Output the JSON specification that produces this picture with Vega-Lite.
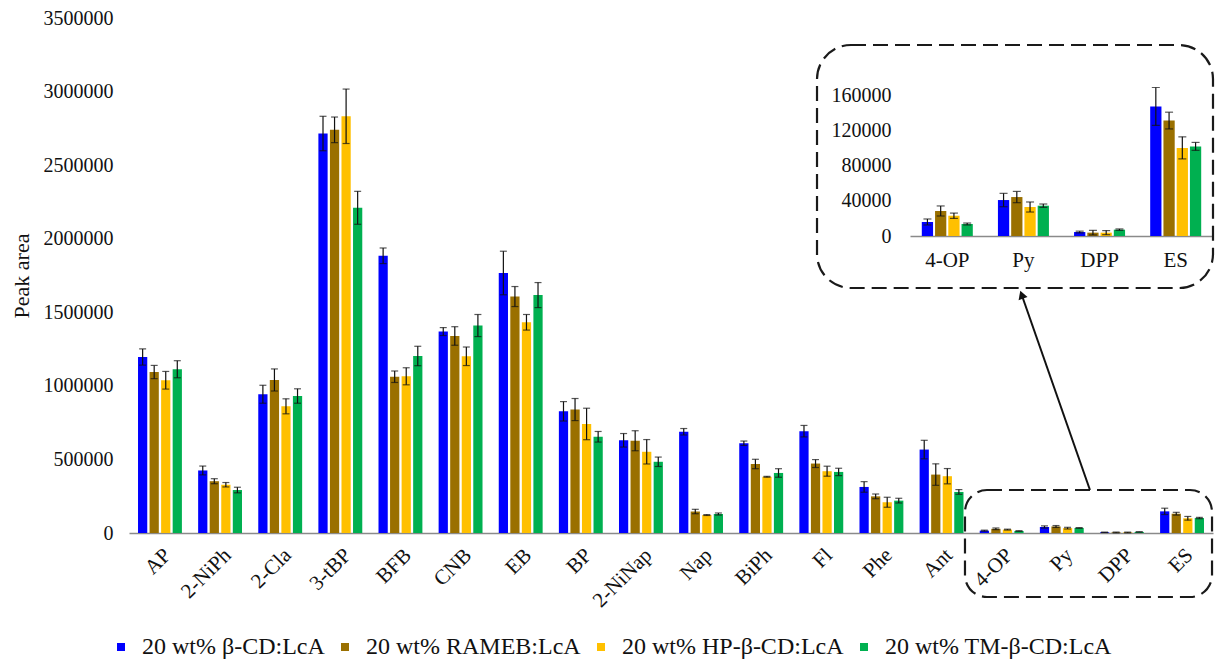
{
  "$schema": "https://vega.github.io/schema/vega-lite/v6.json",
  "autosize": {"type": "none"},
  "width": 1084,
  "height": 515,
  "padding": {"left": 129, "top": 18, "right": 3, "bottom": 126},
  "background": "white",
  "config": {
    "view": {"stroke": null},
    "font": "Liberation Serif",
    "axis": {"labelFont": "Liberation Serif", "titleFont": "Liberation Serif", "labelColor": "#111", "titleColor": "#111", "grid": false, "titleFontSize": 22, "titleFontWeight": "normal"},
    "legend": {"labelFont": "Liberation Serif"}
  },
  "datasets": {
    "d": [
      {"cat":"AP","s":"20 wt% β-CD:LcA","v":1196000,"lo":1141000,"hi":1251000},
      {"cat":"AP","s":"20 wt% RAMEB:LcA","v":1094000,"lo":1049000,"hi":1139000},
      {"cat":"AP","s":"20 wt% HP-β-CD:LcA","v":1038000,"lo":978000,"hi":1098000},
      {"cat":"AP","s":"20 wt% TM-β-CD:LcA","v":1113000,"lo":1055000,"hi":1171000},
      {"cat":"2-NiPh","s":"20 wt% β-CD:LcA","v":425000,"lo":395000,"hi":455000},
      {"cat":"2-NiPh","s":"20 wt% RAMEB:LcA","v":352000,"lo":335000,"hi":369000},
      {"cat":"2-NiPh","s":"20 wt% HP-β-CD:LcA","v":328000,"lo":313000,"hi":343000},
      {"cat":"2-NiPh","s":"20 wt% TM-β-CD:LcA","v":292000,"lo":273000,"hi":311000},
      {"cat":"2-Cla","s":"20 wt% β-CD:LcA","v":943000,"lo":882000,"hi":1004000},
      {"cat":"2-Cla","s":"20 wt% RAMEB:LcA","v":1040000,"lo":965000,"hi":1115000},
      {"cat":"2-Cla","s":"20 wt% HP-β-CD:LcA","v":861000,"lo":810000,"hi":912000},
      {"cat":"2-Cla","s":"20 wt% TM-β-CD:LcA","v":931000,"lo":882000,"hi":980000},
      {"cat":"3-tBP","s":"20 wt% β-CD:LcA","v":2715000,"lo":2598000,"hi":2832000},
      {"cat":"3-tBP","s":"20 wt% RAMEB:LcA","v":2740000,"lo":2653000,"hi":2827000},
      {"cat":"3-tBP","s":"20 wt% HP-β-CD:LcA","v":2832000,"lo":2647000,"hi":3017000},
      {"cat":"3-tBP","s":"20 wt% TM-β-CD:LcA","v":2210000,"lo":2098000,"hi":2322000},
      {"cat":"BFB","s":"20 wt% β-CD:LcA","v":1884000,"lo":1831000,"hi":1937000},
      {"cat":"BFB","s":"20 wt% RAMEB:LcA","v":1062000,"lo":1023000,"hi":1101000},
      {"cat":"BFB","s":"20 wt% HP-β-CD:LcA","v":1065000,"lo":1007000,"hi":1123000},
      {"cat":"BFB","s":"20 wt% TM-β-CD:LcA","v":1203000,"lo":1137000,"hi":1269000},
      {"cat":"CNB","s":"20 wt% β-CD:LcA","v":1369000,"lo":1342000,"hi":1396000},
      {"cat":"CNB","s":"20 wt% RAMEB:LcA","v":1339000,"lo":1276000,"hi":1402000},
      {"cat":"CNB","s":"20 wt% HP-β-CD:LcA","v":1201000,"lo":1138000,"hi":1264000},
      {"cat":"CNB","s":"20 wt% TM-β-CD:LcA","v":1410000,"lo":1335000,"hi":1485000},
      {"cat":"EB","s":"20 wt% β-CD:LcA","v":1767000,"lo":1619000,"hi":1915000},
      {"cat":"EB","s":"20 wt% RAMEB:LcA","v":1607000,"lo":1539000,"hi":1675000},
      {"cat":"EB","s":"20 wt% HP-β-CD:LcA","v":1432000,"lo":1379000,"hi":1485000},
      {"cat":"EB","s":"20 wt% TM-β-CD:LcA","v":1617000,"lo":1532000,"hi":1702000},
      {"cat":"BP","s":"20 wt% β-CD:LcA","v":827000,"lo":761000,"hi":893000},
      {"cat":"BP","s":"20 wt% RAMEB:LcA","v":839000,"lo":764000,"hi":914000},
      {"cat":"BP","s":"20 wt% HP-β-CD:LcA","v":741000,"lo":634000,"hi":848000},
      {"cat":"BP","s":"20 wt% TM-β-CD:LcA","v":654000,"lo":618000,"hi":690000},
      {"cat":"2-NiNap","s":"20 wt% β-CD:LcA","v":630000,"lo":584000,"hi":676000},
      {"cat":"2-NiNap","s":"20 wt% RAMEB:LcA","v":627000,"lo":559000,"hi":695000},
      {"cat":"2-NiNap","s":"20 wt% HP-β-CD:LcA","v":552000,"lo":469000,"hi":635000},
      {"cat":"2-NiNap","s":"20 wt% TM-β-CD:LcA","v":484000,"lo":452000,"hi":516000},
      {"cat":"Nap","s":"20 wt% β-CD:LcA","v":688000,"lo":666000,"hi":710000},
      {"cat":"Nap","s":"20 wt% RAMEB:LcA","v":146000,"lo":131000,"hi":161000},
      {"cat":"Nap","s":"20 wt% HP-β-CD:LcA","v":122000,"lo":119000,"hi":125000},
      {"cat":"Nap","s":"20 wt% TM-β-CD:LcA","v":129000,"lo":122000,"hi":136000},
      {"cat":"BiPh","s":"20 wt% β-CD:LcA","v":610000,"lo":595000,"hi":625000},
      {"cat":"BiPh","s":"20 wt% RAMEB:LcA","v":469000,"lo":437000,"hi":501000},
      {"cat":"BiPh","s":"20 wt% HP-β-CD:LcA","v":382000,"lo":379000,"hi":385000},
      {"cat":"BiPh","s":"20 wt% TM-β-CD:LcA","v":408000,"lo":379000,"hi":437000},
      {"cat":"Fl","s":"20 wt% β-CD:LcA","v":692000,"lo":653000,"hi":731000},
      {"cat":"Fl","s":"20 wt% RAMEB:LcA","v":472000,"lo":445000,"hi":499000},
      {"cat":"Fl","s":"20 wt% HP-β-CD:LcA","v":420000,"lo":386000,"hi":454000},
      {"cat":"Fl","s":"20 wt% TM-β-CD:LcA","v":415000,"lo":390000,"hi":440000},
      {"cat":"Phe","s":"20 wt% β-CD:LcA","v":313000,"lo":277000,"hi":349000},
      {"cat":"Phe","s":"20 wt% RAMEB:LcA","v":249000,"lo":233000,"hi":265000},
      {"cat":"Phe","s":"20 wt% HP-β-CD:LcA","v":209000,"lo":175000,"hi":243000},
      {"cat":"Phe","s":"20 wt% TM-β-CD:LcA","v":220000,"lo":204000,"hi":236000},
      {"cat":"Ant","s":"20 wt% β-CD:LcA","v":567000,"lo":504000,"hi":630000},
      {"cat":"Ant","s":"20 wt% RAMEB:LcA","v":397000,"lo":324000,"hi":470000},
      {"cat":"Ant","s":"20 wt% HP-β-CD:LcA","v":386000,"lo":334000,"hi":438000},
      {"cat":"Ant","s":"20 wt% TM-β-CD:LcA","v":279000,"lo":263000,"hi":295000},
      {"cat":"4-OP","s":"20 wt% β-CD:LcA","v":15900,"lo":12500,"hi":19300},
      {"cat":"4-OP","s":"20 wt% RAMEB:LcA","v":28400,"lo":22700,"hi":34100},
      {"cat":"4-OP","s":"20 wt% HP-β-CD:LcA","v":23000,"lo":20000,"hi":26000},
      {"cat":"4-OP","s":"20 wt% TM-β-CD:LcA","v":13600,"lo":12500,"hi":14700},
      {"cat":"Py","s":"20 wt% β-CD:LcA","v":40800,"lo":33200,"hi":48400},
      {"cat":"Py","s":"20 wt% RAMEB:LcA","v":44200,"lo":37800,"hi":50600},
      {"cat":"Py","s":"20 wt% HP-β-CD:LcA","v":32900,"lo":27200,"hi":38600},
      {"cat":"Py","s":"20 wt% TM-β-CD:LcA","v":34400,"lo":32500,"hi":36300},
      {"cat":"DPP","s":"20 wt% β-CD:LcA","v":4500,"lo":3500,"hi":5500},
      {"cat":"DPP","s":"20 wt% RAMEB:LcA","v":3800,"lo":1200,"hi":6400},
      {"cat":"DPP","s":"20 wt% HP-β-CD:LcA","v":3800,"lo":1500,"hi":6100},
      {"cat":"DPP","s":"20 wt% TM-β-CD:LcA","v":7200,"lo":6400,"hi":8000},
      {"cat":"ES","s":"20 wt% β-CD:LcA","v":147000,"lo":125500,"hi":168500},
      {"cat":"ES","s":"20 wt% RAMEB:LcA","v":131000,"lo":121500,"hi":140500},
      {"cat":"ES","s":"20 wt% HP-β-CD:LcA","v":100000,"lo":87500,"hi":112500},
      {"cat":"ES","s":"20 wt% TM-β-CD:LcA","v":101700,"lo":97200,"hi":106200}
    ]
  },
  "data": {"name": "d"},
  "resolve": {"scale": {"x": "independent", "y": "independent", "xOffset": "independent"}, "axis": {"x": "independent", "y": "independent"}},
  "layer": [
    {
      "encoding": {
        "x": {"field": "cat", "type": "nominal", "sort": null, "title": null,
          "scale": {"paddingInner": 0.27, "paddingOuter": 0.15},
          "axis": {"labelAngle": -45, "labelFontSize": 21, "labelPadding": 11, "ticks": false, "domainColor": "#8a8a8a", "domainWidth": 1.5}},
        "xOffset": {"field": "s", "type": "nominal", "sort": null, "scale": {"paddingInner": 0.2, "paddingOuter": 0}}
      },
      "layer": [
        {
          "mark": {"type": "bar"},
          "encoding": {
            "y": {"field": "v", "type": "quantitative", "title": "Peak area",
              "scale": {"domain": [0, 3500000], "nice": false},
              "axis": {"values": [0, 500000, 1000000, 1500000, 2000000, 2500000, 3000000, 3500000], "format": "d", "labelFontSize": 20, "titleFontSize": 22, "titleFontWeight": "normal", "titlePadding": 10, "domain": false, "ticks": false, "labelPadding": 16}},
            "color": {"field": "s", "type": "nominal", "sort": null,
              "scale": {"domain": ["20 wt% β-CD:LcA", "20 wt% RAMEB:LcA", "20 wt% HP-β-CD:LcA", "20 wt% TM-β-CD:LcA"], "range": ["#0000FF", "#9A7000", "#FFC000", "#00B050"]},
              "legend": {"title": null, "orient": "none", "legendX": -20, "legendY": 617, "direction": "horizontal", "columns": 4, "columnPadding": 8, "symbolType": "square", "symbolSize": 64, "symbolStrokeWidth": 0, "labelFontSize": 24, "labelColor": "#111", "labelOffset": 9, "labelLimit": 400}}
          }
        },
        {
          "mark": {"type": "rule", "color": "#111", "strokeWidth": 1.2},
          "encoding": {
            "y": {"field": "lo", "type": "quantitative", "title": "Peak area"},
            "y2": {"field": "hi"}
          }
        },
        {
          "mark": {"type": "tick", "color": "#111", "size": 7, "thickness": 1.2},
          "encoding": {"y": {"field": "lo", "type": "quantitative", "title": "Peak area"}}
        },
        {
          "mark": {"type": "tick", "color": "#111", "size": 7, "thickness": 1.2},
          "encoding": {"y": {"field": "hi", "type": "quantitative", "title": "Peak area"}}
        }
      ]
    },
    {
      "transform": [{"filter": {"field": "cat", "oneOf": ["4-OP", "Py", "DPP", "ES"]}}],
      "encoding": {
        "x": {"field": "cat", "type": "nominal", "sort": null, "title": null,
          "scale": {"range": [781, 1084], "paddingInner": 0.33, "paddingOuter": 0.155},
          "axis": {"orient": "bottom", "offset": -297, "labelAngle": 0, "labelFontSize": 21, "labelPadding": 13, "ticks": false, "domainColor": "#8a8a8a", "domainWidth": 1.5}},
        "xOffset": {"field": "s", "type": "nominal", "sort": null, "scale": {"paddingInner": 0.15, "paddingOuter": 0}}
      },
      "layer": [
        {
          "mark": {"type": "bar"},
          "encoding": {
            "y": {"field": "v", "type": "quantitative", "title": null,
              "scale": {"domain": [0, 160000], "range": [218, 77], "nice": false},
              "axis": {"orient": "left", "offset": -781, "values": [0, 40000, 80000, 120000, 160000], "format": "d", "labelFontSize": 20, "domain": false, "ticks": false, "labelPadding": 19}},
            "color": {"field": "s", "type": "nominal", "sort": null}
          }
        },
        {
          "mark": {"type": "rule", "color": "#111", "strokeWidth": 1.2},
          "encoding": {"y": {"field": "lo", "type": "quantitative", "title": null}, "y2": {"field": "hi"}}
        },
        {
          "mark": {"type": "tick", "color": "#111", "size": 8, "thickness": 1.2},
          "encoding": {"y": {"field": "lo", "type": "quantitative", "title": null}}
        },
        {
          "mark": {"type": "tick", "color": "#111", "size": 8, "thickness": 1.2},
          "encoding": {"y": {"field": "hi", "type": "quantitative", "title": null}}
        }
      ]
    },
    {
      "data": {"values": [{}]},
      "layer": [
        {
          "mark": {"type": "rect", "fill": "transparent", "stroke": "#1a1a1a", "strokeWidth": 2.2, "strokeDash": [15, 7], "cornerRadius": 34, "clip": false},
          "encoding": {
            "x": {"datum": 0.6347, "type": "quantitative", "scale": {"domain": [0, 1], "nice": false, "zero": false}, "axis": null},
            "x2": {"datum": 1.0},
            "y": {"datum": 0.9476, "type": "quantitative", "scale": {"domain": [0, 1], "nice": false, "zero": false}, "axis": null},
            "y2": {"datum": 0.4757}
          }
        },
        {
          "mark": {"type": "rect", "fill": "transparent", "stroke": "#1a1a1a", "strokeWidth": 2.2, "strokeDash": [15, 7], "cornerRadius": 22, "clip": false},
          "encoding": {
            "x": {"datum": 0.7712, "type": "quantitative"},
            "x2": {"datum": 0.9991},
            "y": {"datum": 0.0835, "type": "quantitative"},
            "y2": {"datum": -0.1243}
          }
        },
        {
          "mark": {"type": "rule", "color": "#111", "strokeWidth": 2},
          "encoding": {
            "x": {"datum": 0.8865, "type": "quantitative"},
            "x2": {"datum": 0.8235},
            "y": {"datum": 0.0835, "type": "quantitative"},
            "y2": {"datum": 0.4627}
          }
        },
        {
          "mark": {"type": "point", "shape": "triangle-up", "filled": true, "color": "#111", "size": 90, "angle": -19.4, "opacity": 1},
          "encoding": {
            "x": {"datum": 0.8235, "type": "quantitative"},
            "y": {"datum": 0.4627, "type": "quantitative"}
          }
        }
      ]
    }
  ]
}
